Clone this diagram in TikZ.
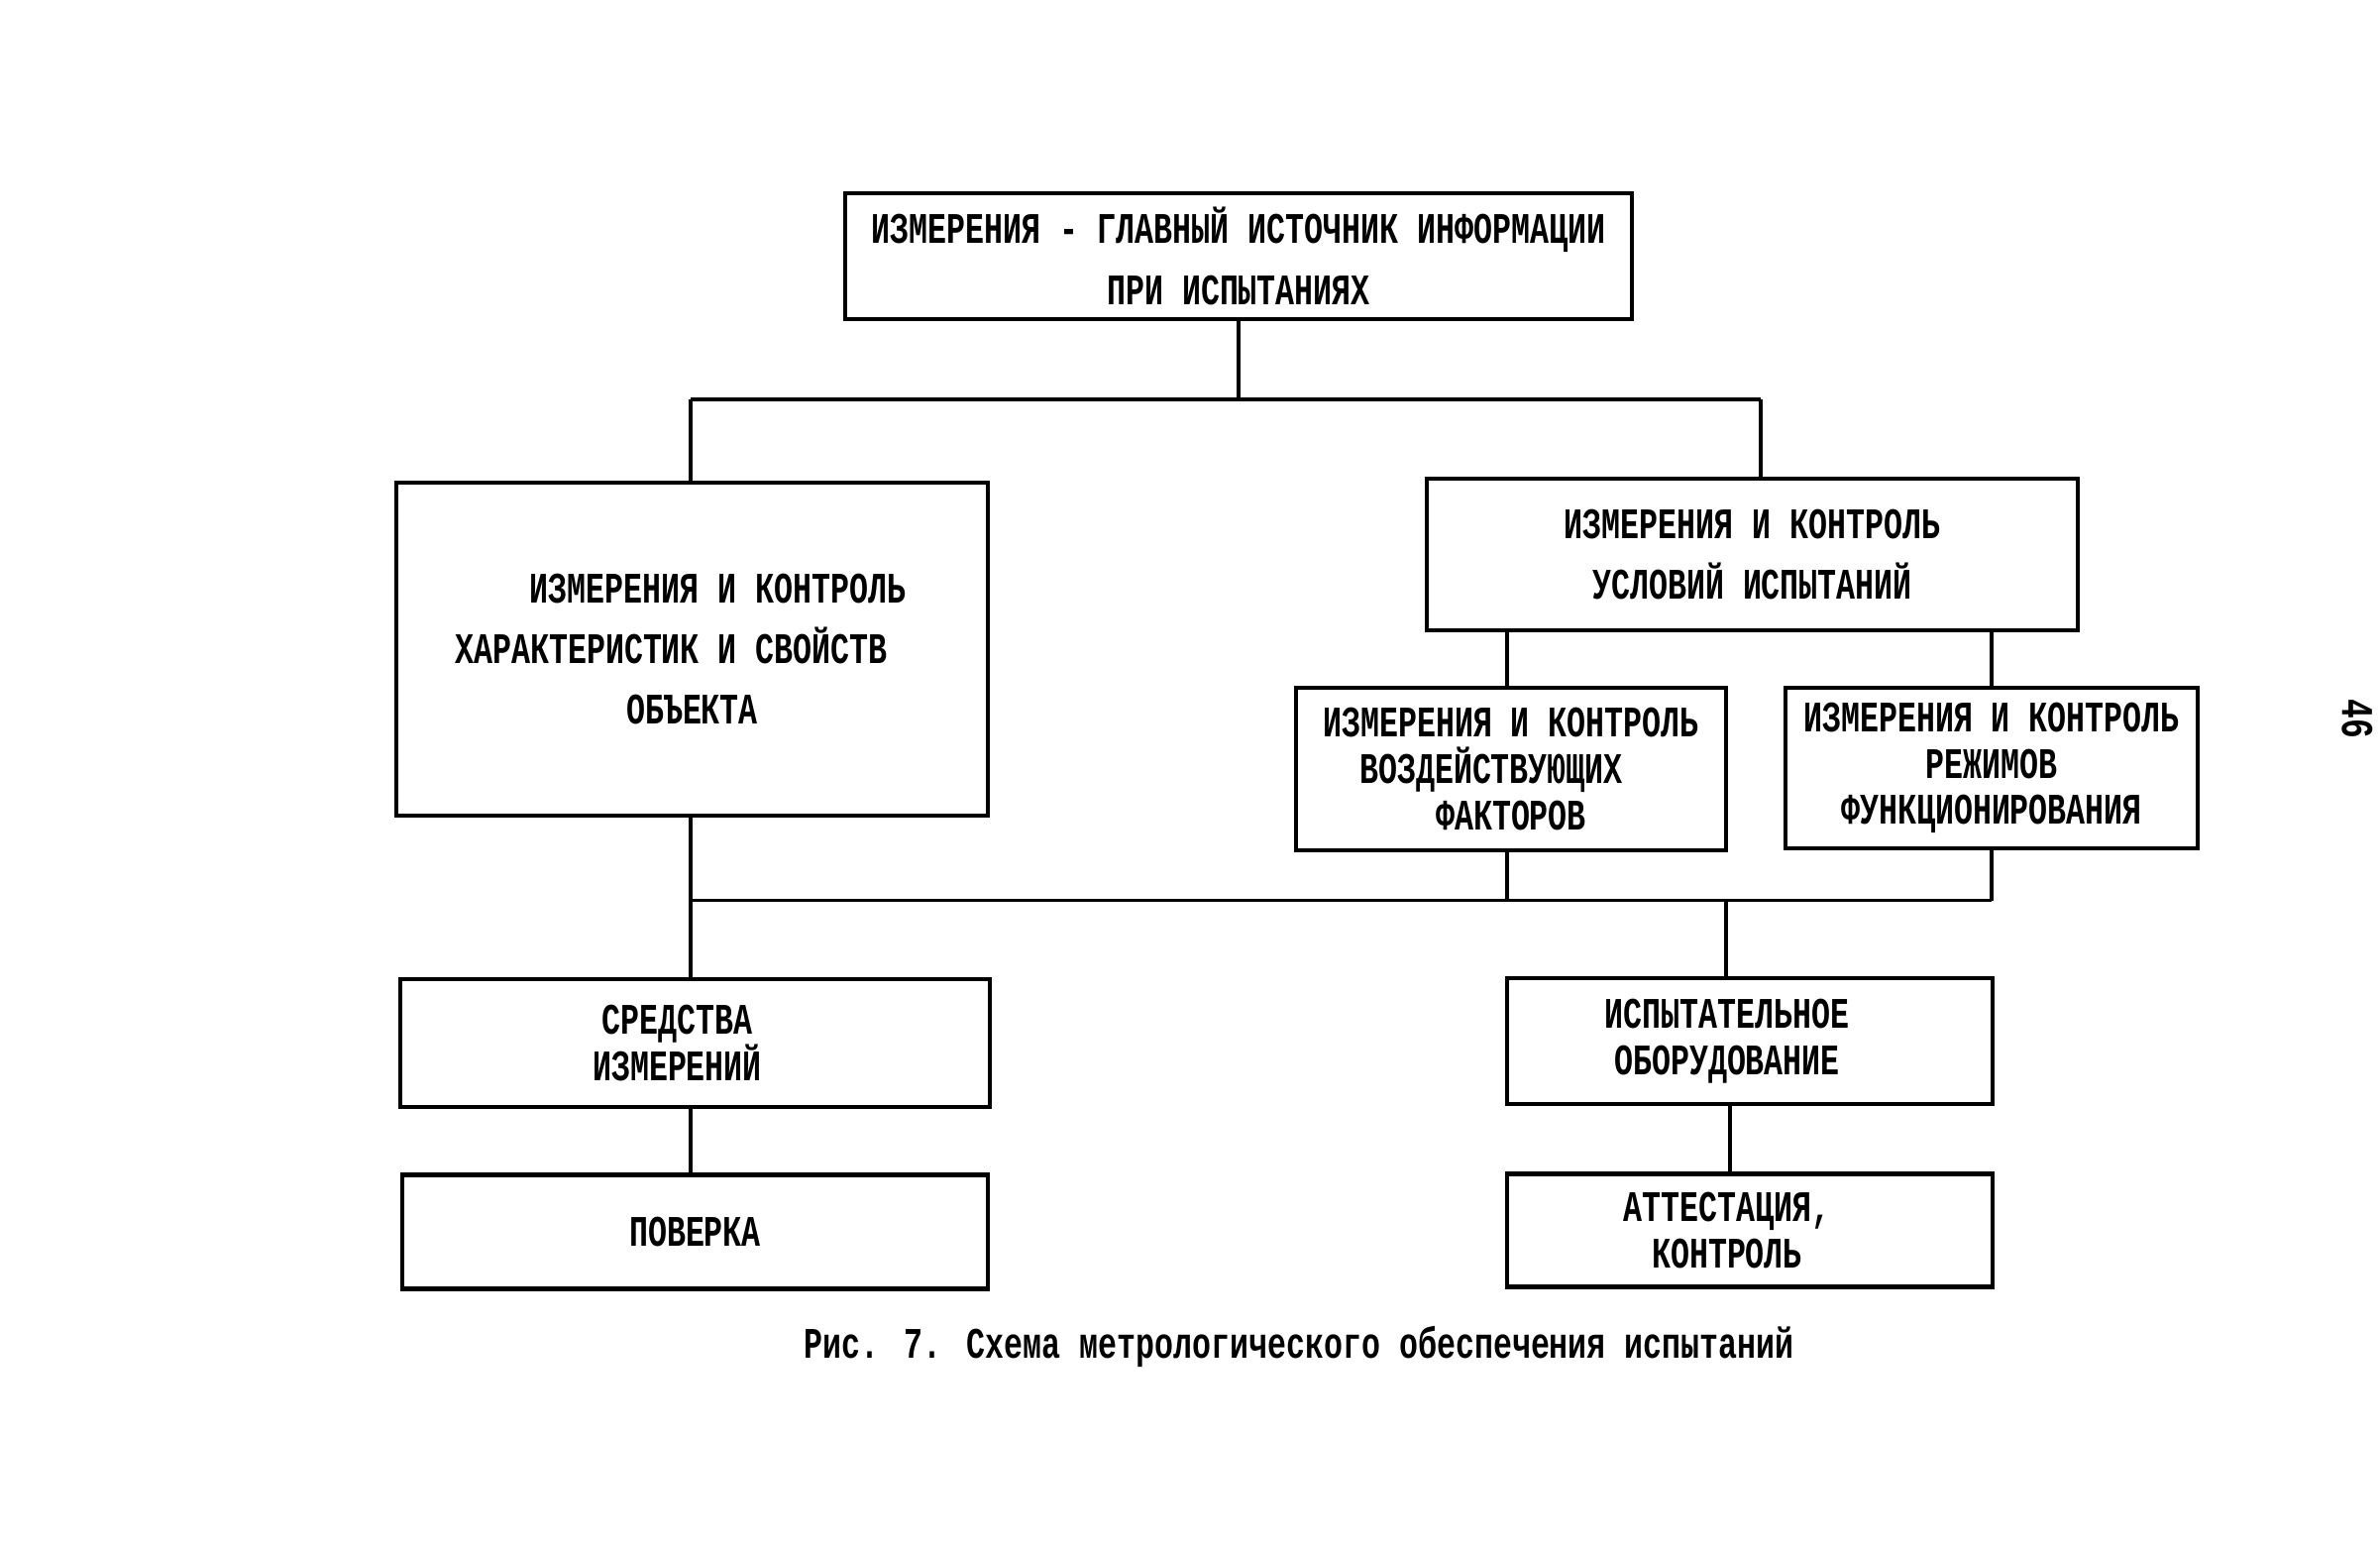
\documentclass[tikz,border=0pt]{standalone}
\usepackage{fontspec}
\setmainfont{Liberation Mono}[FakeStretch=0.72]
\usepackage{tikz}
\usetikzlibrary{positioning, calc}

\tikzset{
	blk/.style = {draw, line width = 1.3pt, align = center, inner sep = 0pt, font = \bfseries\fontsize{12.5}{17.4}\selectfont},
	blksmall/.style = {blk, font = \bfseries\fontsize{12.5}{13.3}\selectfont},
	link/.style = {line width = 1pt}
}

\begin{document}
\begin{tikzpicture}
		\useasboundingbox (0,0) rectangle (24.02,-15.62);
		% upper level
		\node[blk, minimum width = 7.94cm, minimum height = 1.27cm] (main) at (12.50,-2.585){ИЗМЕРЕНИЯ - ГЛАВНЫЙ ИСТОЧНИК ИНФОРМАЦИИ \\ ПРИ ИСПЫТАНИЯХ};
		\node[blk, minimum width = 5.97cm, minimum height = 3.36cm] (obj) at (6.985,-6.55){\hspace*{0.52cm}ИЗМЕРЕНИЯ И КОНТРОЛЬ \\ ХАРАКТЕРИСТИК И СВОЙСТВ\hspace*{0.42cm} \\ ОБЪЕКТА};
		\node[blk, minimum width = 6.57cm, minimum height = 1.53cm] (usl) at (17.685,-5.595){ИЗМЕРЕНИЯ И КОНТРОЛЬ \\ УСЛОВИЙ ИСПЫТАНИЙ};
		\node[blksmall, minimum width = 4.34cm, minimum height = 1.64cm] (fact) at (15.25,-7.76){ИЗМЕРЕНИЯ И КОНТРОЛЬ \\ ВОЗДЕЙСТВУЮЩИХ\hspace*{0.4cm} \\ ФАКТОРОВ};
		\node[blksmall, minimum width = 4.16cm, minimum height = 1.62cm] (rezh) at (20.10,-7.75){ИЗМЕРЕНИЯ И КОНТРОЛЬ \\ РЕЖИМОВ \\ ФУНКЦИОНИРОВАНИЯ};
		% lower level
		\node[blksmall, minimum width = 5.95cm, minimum height = 1.29cm] (sredstva) at (7.015,-10.525){СРЕДСТВА\hspace*{0.36cm} \\ ИЗМЕРЕНИЙ\hspace*{0.36cm}};
		\node[blksmall, minimum width = 4.90cm, minimum height = 1.27cm] (oborud) at (17.66,-10.505){ИСПЫТАТЕЛЬНОЕ\hspace*{0.46cm} \\ ОБОРУДОВАНИЕ\hspace*{0.46cm}};
		\node[blksmall, minimum width = 5.91cm, minimum height = 1.15cm, below = 0.64cm of sredstva] (poverka){ПОВЕРКА};
		\node[blksmall, minimum width = 4.90cm, minimum height = 1.14cm, below = 0.66cm of oborud] (attest){АТТЕСТАЦИЯ,\hspace*{0.46cm} \\ КОНТРОЛЬ\hspace*{0.46cm}};
		% junctions
		\coordinate (busL) at (6.97,-4.03);
		\coordinate (busR) at (17.77,-4.03);
		\coordinate (midL) at (6.97,-9.085);
		\coordinate (midR) at (20.10,-9.085);
		\coordinate (midF) at (15.21,-9.085);
		\coordinate (midO) at (17.42,-9.085);
		% connectors
		\draw[link] (main.south) -- (main.south |- busL);
		\draw[link] (busL) -- (busR);
		\draw[link] (busL) -- (busL |- obj.north);
		\draw[link] (busR) -- (busR |- usl.north);
		\draw[link] (midF |- usl.south) -- (midF |- fact.north);
		\draw[link] (midR |- usl.south) -- (midR |- rezh.north);
		\draw[link] (midF |- fact.south) -- (midF);
		\draw[link] (midR |- rezh.south) -- (midR);
		\draw[link] (midL) -- (midR);
		\draw[link] (midL |- obj.south) -- (midL |- sredstva.north);
		\draw[link] (midO) -- (midO |- oborud.north);
		\draw[link] (midL |- sredstva.south) -- (midL |- poverka.north);
		\draw[link] ($(oborud.south)+(-0.20,0)$) -- ($(attest.north)+(-0.20,0)$);
		% caption and page number
		\node[font = \bfseries\fontsize{12.5}{15}\selectfont] (caption) at (13.11,-13.59){Рис. 7. Схема метрологического обеспечения испытаний};
		\node[font = \bfseries\fontsize{13}{15}\selectfont, rotate = -90] (page) at (23.79,-7.25){46};
	\end{tikzpicture}
\end{document}
